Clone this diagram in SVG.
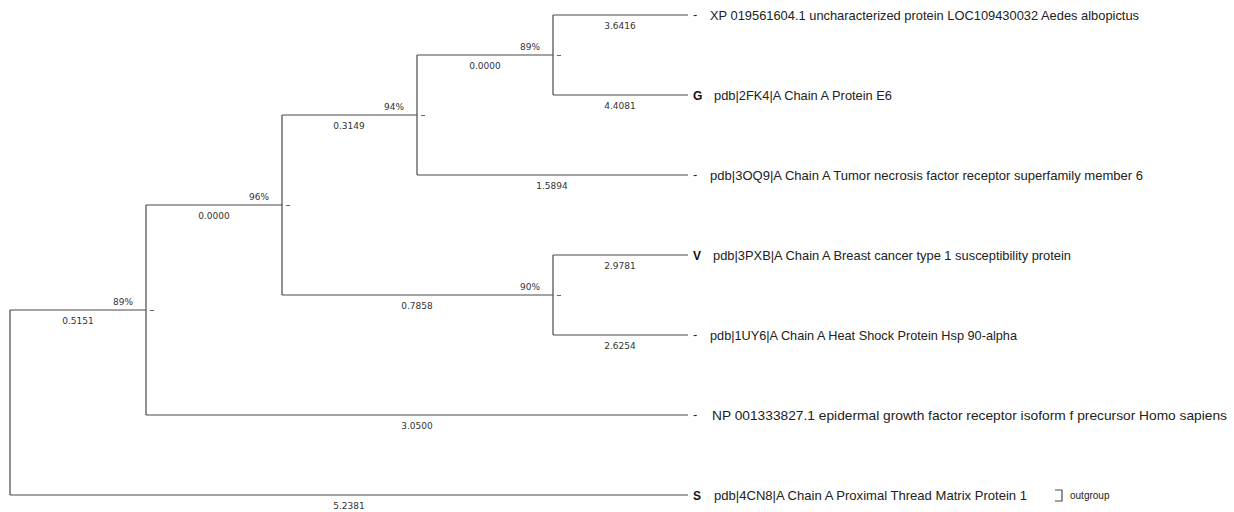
<svg xmlns="http://www.w3.org/2000/svg" width="1234" height="512" viewBox="0 0 1234 512">
<style>
.br{stroke:#4a4a4a;stroke-width:1.2;fill:none}
.tk{stroke:#666;stroke-width:1;fill:none}
.num{font-family:"DejaVu Sans",Verdana,sans-serif;font-size:9px;fill:#333}
.bl{text-anchor:middle}
.bs{text-anchor:end}
.lf{font-family:"Liberation Sans",Arial,sans-serif;font-size:13px;fill:#222}
.mk{font-family:"Liberation Sans",Arial,sans-serif;font-size:12px;fill:#111;font-weight:bold}
.og{font-family:"Liberation Sans",Arial,sans-serif;font-size:10px;fill:#222}
</style>
<rect width="1234" height="512" fill="#fff"/>
<g id="connectors">
<path class="br" d="M10,310 V495 M10,310 H146 M10,495 H688"/>
<path class="br" d="M146,205 V415 M146,205 H282 M146,415 H688"/>
<path class="br" d="M282,115 V295 M282,115 H417 M282,295 H553"/>
<path class="br" d="M417,55 V175 M417,55 H553 M417,175 H688"/>
<path class="br" d="M553,15 V95 M553,15 H688 M553,95 H688"/>
<path class="br" d="M553,255 V335 M553,255 H688 M553,335 H688"/>
<path class="tk" d="M150,310.5 H154 M286,205.5 H290 M421,115.5 H425 M557,55.5 H561 M557,295.5 H561"/>
</g>
<g id="branch-labels">
<text class="num bl" x="78" y="324">0.5151</text>
<text class="num bs" x="133" y="305">89%</text>
<text class="num bl" x="349" y="509">5.2381</text>
<text class="num bl" x="214" y="219">0.0000</text>
<text class="num bs" x="269" y="200">96%</text>
<text class="num bl" x="417" y="429">3.0500</text>
<text class="num bl" x="349" y="129">0.3149</text>
<text class="num bs" x="404" y="110">94%</text>
<text class="num bl" x="417" y="309">0.7858</text>
<text class="num bs" x="540" y="290">90%</text>
<text class="num bl" x="485" y="69">0.0000</text>
<text class="num bs" x="540" y="50">89%</text>
<text class="num bl" x="552" y="189">1.5894</text>
<text class="num bl" x="620" y="29">3.6416</text>
<text class="num bl" x="620" y="109">4.4081</text>
<text class="num bl" x="620" y="269">2.9781</text>
<text class="num bl" x="620" y="349">2.6254</text>
</g>
<g id="leaf-XP"><text class="lf" x="693" y="19">-</text><text class="lf" x="710" y="19.5" textLength="429" lengthAdjust="spacingAndGlyphs">XP 019561604.1 uncharacterized protein LOC109430032 Aedes albopictus</text></g>
<g id="leaf-2FK4"><text class="mk" x="693" y="99.5">G</text><text class="lf" x="714" y="99.5" textLength="178" lengthAdjust="spacingAndGlyphs">pdb|2FK4|A Chain A Protein E6</text></g>
<g id="leaf-3OQ9"><text class="lf" x="693" y="179">-</text><text class="lf" x="710" y="179.5" textLength="433" lengthAdjust="spacingAndGlyphs">pdb|3OQ9|A Chain A Tumor necrosis factor receptor superfamily member 6</text></g>
<g id="leaf-3PXB"><text class="mk" x="693" y="259.5">V</text><text class="lf" x="713" y="259.5" textLength="358" lengthAdjust="spacingAndGlyphs">pdb|3PXB|A Chain A Breast cancer type 1 susceptibility protein</text></g>
<g id="leaf-1UY6"><text class="lf" x="693" y="339">-</text><text class="lf" x="710" y="339.5" textLength="307" lengthAdjust="spacingAndGlyphs">pdb|1UY6|A Chain A Heat Shock Protein Hsp 90-alpha</text></g>
<g id="leaf-NP"><text class="lf" x="693" y="419">-</text><text class="lf" x="712" y="419.5" textLength="515" lengthAdjust="spacingAndGlyphs">NP 001333827.1 epidermal growth factor receptor isoform f precursor Homo sapiens</text></g>
<g id="leaf-4CN8"><text class="mk" x="693" y="499.5">S</text><text class="lf" x="714" y="499.5" textLength="313" lengthAdjust="spacingAndGlyphs">pdb|4CN8|A Chain A Proximal Thread Matrix Protein 1</text>
<path class="br" d="M1055,490 H1062 V501 H1055"/><text class="og" x="1070" y="499">outgroup</text></g>
</svg>
